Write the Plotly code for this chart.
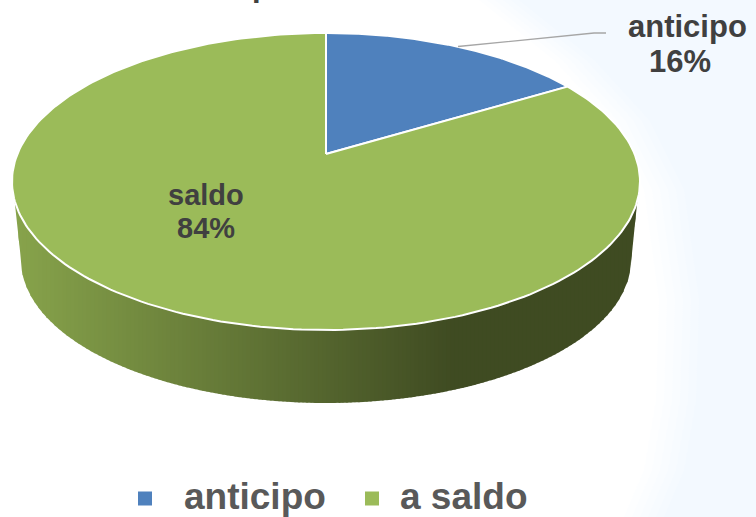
import numpy as np
import plotly.graph_objects as go

categories = ["anticipo", "a saldo"]
values = [16.4, 83.6]
slice_names = ["anticipo", "saldo"]
colors = ["#4F81BD", "#9BBB59"]
TEXT = "#404040"
LEGEND_TEXT = "#595959"
FONT = "Liberation Sans, Arial, sans-serif"

# pie geometry on a page-sized axis
CX, CY, RX, RY = 326, 181.5, 314, 148.5      # top face ellipse
APEX_Y = 154                                  # perspective image of the pie centre
BX, BY, BRX, BRY = 326, 260, 305, 143         # bottom rim ellipse
WALL_L, WALL_R = "#87A34B", "#3F4B22"
GRAD_END = 450

Y0 = (CY - APEX_Y) / RY


def project(theta):
    """Clockwise angle from 12 o'clock on the tilted disc -> page position."""
    u, v = np.sin(theta), np.cos(theta)
    d = 1 + Y0 * v
    return CX + RX * u * np.sqrt(1 - Y0 ** 2) / d, CY - RY * (v + Y0) / d


def top_edge(x):
    return CY + RY * np.sqrt(np.clip(1 - ((x - CX) / RX) ** 2, 0, 1))


def bottom_edge(x):
    x = np.asarray(x, float)
    y = BY + BRY * np.sqrt(np.clip(1 - ((x - BX) / BRX) ** 2, 0, 1))
    lx0, rx0 = CX - RX * 0.992, CX + RX * 0.992
    start_y = 200
    left = x < BX - BRX
    right = x > BX + BRX
    y = np.where(left, start_y + (x - lx0) / (BX - BRX - lx0) * (BY - start_y), y)
    y = np.where(right, start_y + (rx0 - x) / (rx0 - BX - BRX) * (BY - start_y), y)
    return y


def mix(a, b, t):
    ca = [int(a[i:i + 2], 16) for i in (1, 3, 5)]
    cb = [int(b[i:i + 2], 16) for i in (1, 3, 5)]
    return "rgb(%d,%d,%d)" % tuple(round(p + (q - p) * t) for p, q in zip(ca, cb))


fig = go.Figure()

# side wall, as thin vertical strips carrying the horizontal gradient
x0, x1 = CX - RX * 0.992, CX + RX * 0.992
edges = np.arange(x0, x1, 4.0)
for a in edges:
    b = min(a + 5, x1)
    xs = np.linspace(a, b, 4)
    t = min(max((a - x0) / (GRAD_END - x0), 0), 1)
    px = np.r_[xs, xs[::-1]]
    py = np.r_[top_edge(xs) - 2, bottom_edge(xs)[::-1]]
    fig.add_trace(go.Scatter(x=px, y=py, mode="lines", fill="toself",
                             fillcolor=mix(WALL_L, WALL_R, t),
                             line=dict(width=0), hoverinfo="skip", showlegend=False))

# top face slices
fractions = np.array(values, float) / sum(values)
start = 0.0
for name, frac, col in zip(categories, fractions, colors):
    th = np.linspace(start, start + frac * 2 * np.pi, 240)
    ex, ey = project(th)
    fig.add_trace(go.Scatter(x=np.r_[CX, ex, CX], y=np.r_[APEX_Y, ey, APEX_Y], mode="lines",
                             fill="toself", fillcolor=col, name=name,
                             line=dict(color="white", width=2), hoverinfo="name", showlegend=False))
    start += frac * 2 * np.pi

# leader line for the small slice
fig.add_trace(go.Scatter(x=[458, 594, 606], y=[46.5, 33, 33], mode="lines",
                         line=dict(color="#A6A6A6", width=1.3), hoverinfo="skip", showlegend=False))

# legend swatches
fig.add_trace(go.Scatter(x=[145, 372], y=[498.5, 498.5], mode="markers",
                         marker=dict(symbol="square", size=14, color=colors, line=dict(width=0)),
                         hoverinfo="skip", showlegend=False))


def note(text, x, y, size, color):
    fig.add_annotation(x=x, y=y, text="<b>%s</b>" % text, showarrow=False, xanchor="center", yanchor="middle",
                       font=dict(family=FONT, size=size, color=color))


note(slice_names[0], 687.5, 26, 31, TEXT)
note("%.0f%%" % values[0], 680, 61, 31, TEXT)
note(slice_names[1], 206, 195, 29, TEXT)
note("%.0f%%" % values[1], 206, 228, 29, TEXT)
note(categories[0], 255, 496, 37, LEGEND_TEXT)
note(categories[1], 464, 496, 37, LEGEND_TEXT)

# foot of a title line that is cut off by the top of the picture
fig.add_annotation(x=261 / 756, y=1, yshift=-5, xref="paper", yref="paper", text="<b>p</b>", showarrow=False,
                   xanchor="center", yanchor="bottom", font=dict(family=FONT, size=31, color=TEXT))

# faint pale-blue background sweep at the right
bg_x = [495, 570, 625, 660, 675, 672, 660, 640, 640, 756, 756]
bg_y = [0, 60, 120, 190, 300, 400, 470, 517, 517, 517, 0]
shapes = []
for off in (24, 16, 8, 0, -8, -16):
    path = "M " + " L ".join("%g,%g" % (x + (off if x < 750 else 0), y) for x, y in zip(bg_x, bg_y)) + " Z"
    shapes.append(dict(type="path", path=path, xref="x", yref="y", layer="below",
                       fillcolor="rgba(225,236,248,0.07)", line=dict(width=0)))

fig.update_layout(
    width=756, height=517, margin=dict(l=0, r=0, t=0, b=0),
    paper_bgcolor="white", plot_bgcolor="rgba(0,0,0,0)", showlegend=False, shapes=shapes,
    xaxis=dict(range=[0, 756], visible=False, fixedrange=True),
    yaxis=dict(range=[517, 0], visible=False, fixedrange=True),
)
fig.write_html("out.html", config=dict(displayModeBar=False),
               post_script="document.body.style.margin='0';document.body.style.overflow='hidden';")
